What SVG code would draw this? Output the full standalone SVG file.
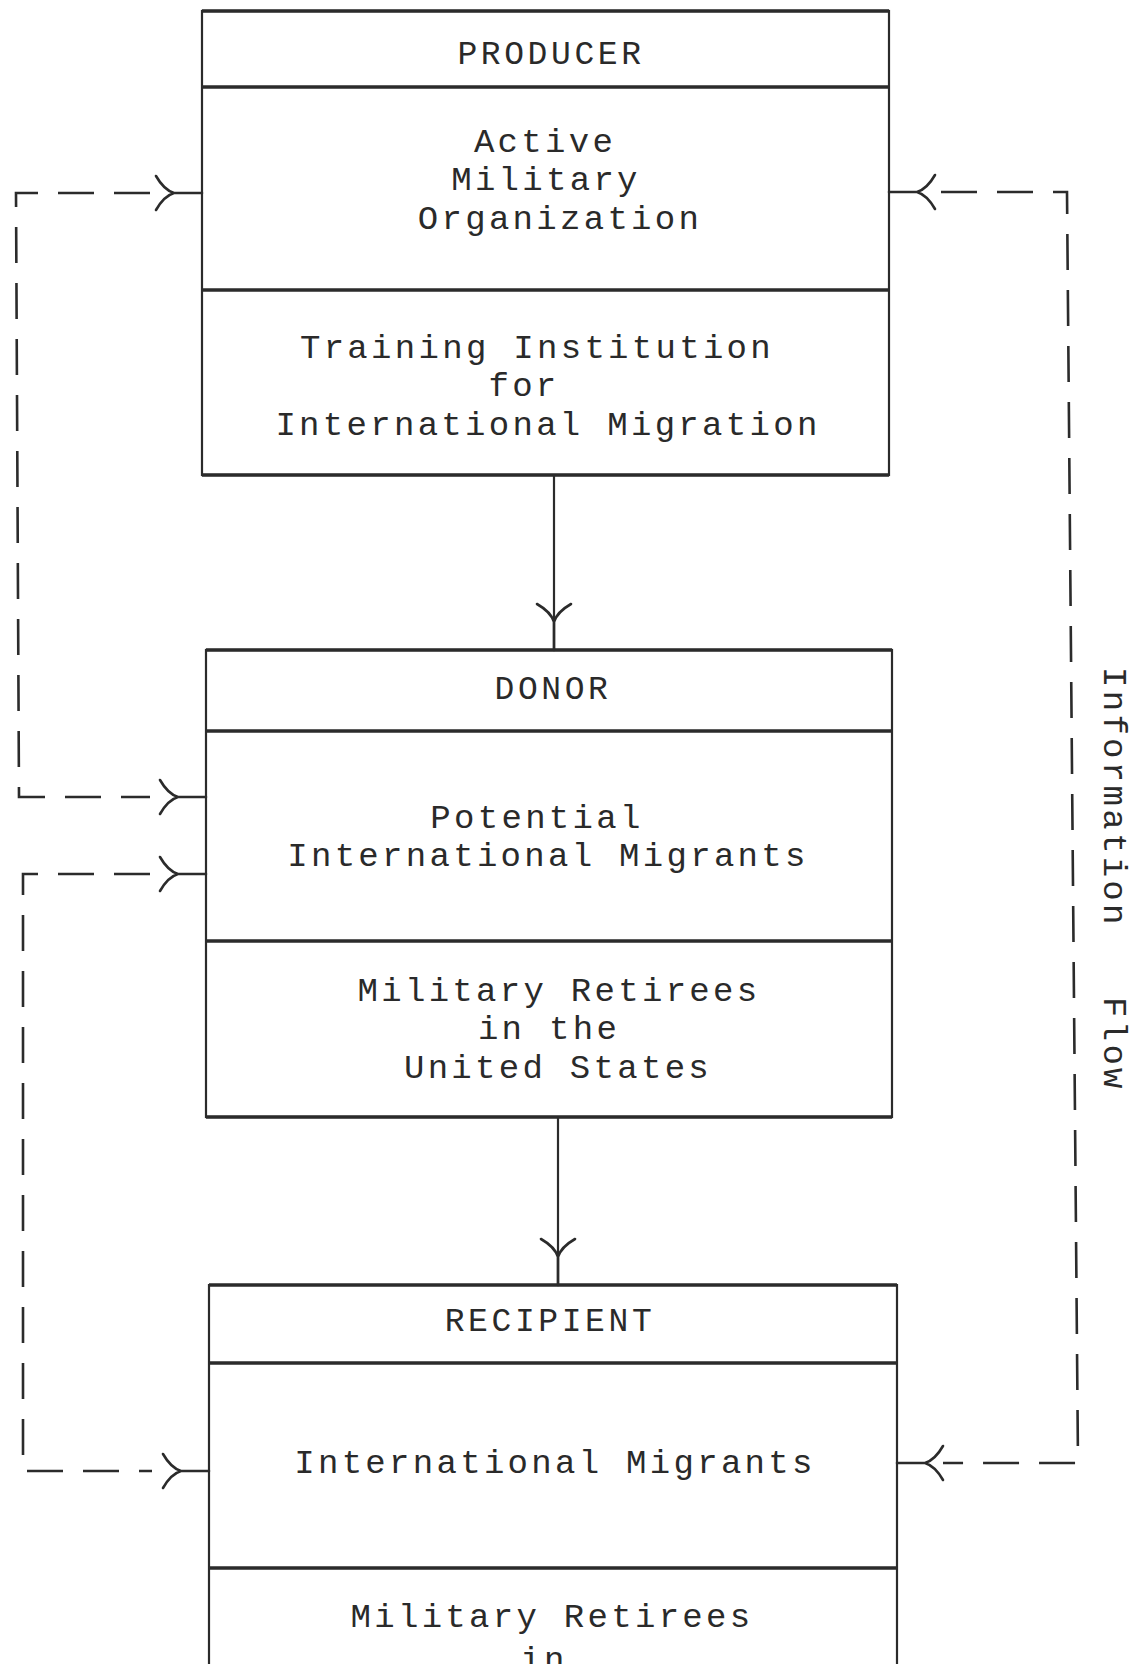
<svg xmlns="http://www.w3.org/2000/svg" xmlns:xlink="http://www.w3.org/1999/xlink" width="1143" height="1664" viewBox="0 0 1143 1664">
<style>
.box{fill:none;stroke:#2b2b2b;stroke-width:2.2}
.hl{stroke:#2b2b2b;stroke-width:3.4;fill:none}
.t{font-family:"Liberation Mono","DejaVu Sans Mono",monospace;font-size:34px;letter-spacing:3.3px;fill:#2a2a2a;text-anchor:middle}
.h{font-family:"Liberation Mono","DejaVu Sans Mono",monospace;font-size:33px;letter-spacing:3.6px;fill:#2a2a2a;text-anchor:middle}
.dash{fill:none;stroke:#2b2b2b;stroke-width:2.6;stroke-dasharray:36 20}
.solid{fill:none;stroke:#2b2b2b;stroke-width:2.2}
.head{fill:none;stroke:#2b2b2b;stroke-width:2.6;stroke-linecap:round}
</style>
<defs>
<path id="hd" d="M0 0 H-28 M-46 -17 Q-38 -3 -28 0 M-46 17 Q-38 3 -28 0"/>
</defs>
<rect x="0" y="0" width="1143" height="1664" fill="#ffffff"/>

<g id="producer">
<rect class="box" x="202" y="11" width="687" height="464"/>
<path class="hl" d="M202 11 H889 M202 87 H889 M202 290 H889 M202 475 H889"/>
<text class="h" x="551" y="64">PRODUCER</text>
<text class="t" x="545" y="152">Active</text>
<text class="t" x="546" y="190">Military</text>
<text class="t" x="560" y="229">Organization</text>
<text class="t" x="537" y="358">Training Institution</text>
<text class="t" x="524" y="396">for</text>
<text class="t" x="548" y="435">International Migration</text>
</g>

<g id="donor">
<rect class="box" x="206" y="650" width="686" height="467"/>
<path class="hl" d="M206 650 H892 M206 731 H892 M206 941 H892 M206 1117 H892"/>
<text class="h" x="553" y="699">DONOR</text>
<text class="t" x="537" y="828">Potential</text>
<text class="t" x="548" y="866">International Migrants</text>
<text class="t" x="559" y="1001">Military Retirees</text>
<text class="t" x="549" y="1039">in the</text>
<text class="t" x="558" y="1078">United States</text>
</g>

<g id="recipient">
<path class="box" d="M209 1700 V1285 H897 V1700"/>
<path class="hl" d="M209 1285 H897 M209 1363 H897 M209 1568 H897"/>
<text class="h" x="550" y="1331">RECIPIENT</text>
<text class="t" x="555" y="1473">International Migrants</text>
<text class="t" x="552" y="1627">Military Retirees</text>
<text class="t" x="544" y="1670">in</text>
</g>

<g id="connectors">
<path class="solid" d="M554 475 V650"/>
<use href="#hd" xlink:href="#hd" class="head" transform="translate(554,650) rotate(90)"/>
<path class="solid" d="M558 1117 V1285"/>
<use href="#hd" xlink:href="#hd" class="head" transform="translate(558,1285) rotate(90)"/>

<path class="dash" d="M150 193 H16 L19 797 H150"/>
<use href="#hd" xlink:href="#hd" class="head" transform="translate(202,193)"/>
<use href="#hd" xlink:href="#hd" class="head" transform="translate(206,797)"/>

<path class="dash" d="M150 874 H23 V1471 H152"/>
<use href="#hd" xlink:href="#hd" class="head" transform="translate(206,874)"/>
<use href="#hd" xlink:href="#hd" class="head" transform="translate(209,1471)"/>

<path class="dash" d="M941 192 H1067 L1078 1463 H943"/>
<use href="#hd" xlink:href="#hd" class="head" transform="translate(889,192) rotate(180)"/>
<use href="#hd" xlink:href="#hd" class="head" transform="translate(897,1463) rotate(180)"/>
</g>

<g id="label-information-flow">
<text class="t" style="text-anchor:start" transform="translate(1104,667) rotate(90)"><tspan x="0" y="0">Information</tspan><tspan x="330" y="0">Flow</tspan></text>
</g>
</svg>
